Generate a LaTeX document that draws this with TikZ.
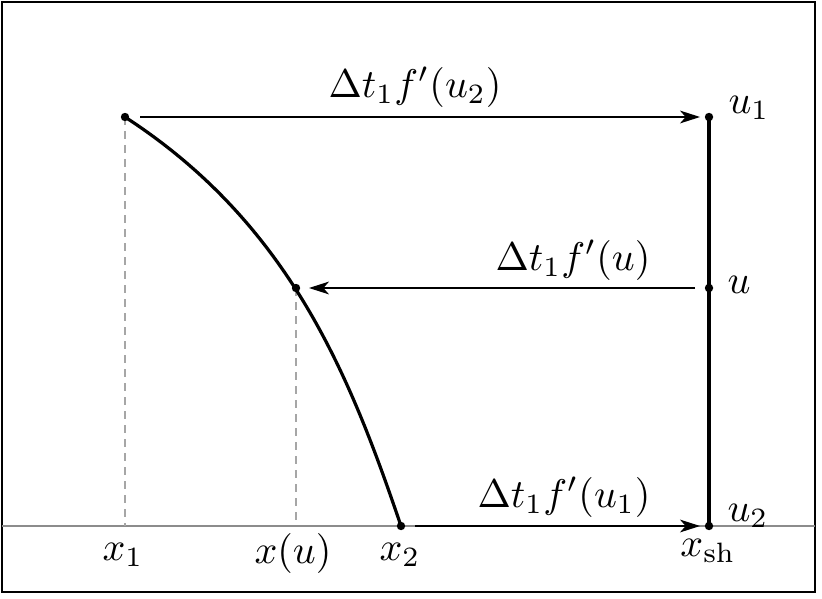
\documentclass[tikz,border=0pt]{standalone}
\usetikzlibrary{arrows.meta}
\begin{document}
\begin{tikzpicture}[x=0.25pt,y=-0.25pt,
  every node/.style={font=\fontsize{9.6}{12}\selectfont},
  thick line/.style={line width=0.8pt},
  arr/.style={line width=0.3pt,-{Stealth[length=5pt,width=3.2pt,inset=1.4pt]}},
  guide/.style={black!35,line width=0.4pt,dash pattern=on 2pt off 1.5pt},
  dotc/.style={circle,fill=black,inner sep=0pt,minimum size=2.1pt}]
\useasboundingbox (0,0) rectangle (822,598);
\draw[line width=0.5pt] (2,2) rectangle (815,592);
% axis
\coordinate (axL) at (2,526);
\coordinate (axR) at (815,526);
\draw[black!45,line width=0.3pt] (axL) -- (axR);
% points
\coordinate (A) at (125,117);
\coordinate (M) at (296,288);
\coordinate (B) at (401,526);
\coordinate (R1) at (709,117);
\coordinate (RU) at (709,288);
\coordinate (R2) at (709,526);
\coordinate (Ax) at (125,526);
\coordinate (Mx) at (296,526);
% guides
\draw[guide] (A) -- (Ax);
\draw[guide] (M) -- (Mx);
% curve
\draw[thick line] (A) .. controls (290,224) and (350,376) .. (B);
% vertical segment
\draw[thick line] (R1) -- (R2);
% arrows
\draw[arr,shorten <=3.75pt,shorten >=2.25pt] (A) -- (R1);
\draw[arr,shorten <=3.5pt,shorten >=3.25pt] (RU) -- (M);
\draw[arr,shorten <=3.5pt,shorten >=2.25pt] (B) -- (R2);
% dots
\foreach \p in {A,M,B,R1,RU,R2} \node[dotc] at (\p) {};
% labels
\node (l1) at (415,87) {$\Delta t_1 f'(u_2)$};
\node (l2) at (573,260) {$\Delta t_1 f'(u)$};
\node (l3) at (564,497) {$\Delta t_1 f'(u_1)$};
\node (lu1) at (749,108) {$u_1$};
\node (lu) at (739,285) {$u$};
\node (lu2) at (748,516) {$u_2$};
\node (lxsh) at (708,551) {$x_{\mathrm{sh}}$};
\node (lx1) at (123,555) {$x_1$};
\node (lxu) at (293,553) {$x(u)$};
\node (lx2) at (400,555) {$x_2$};
\end{tikzpicture}
\end{document}
